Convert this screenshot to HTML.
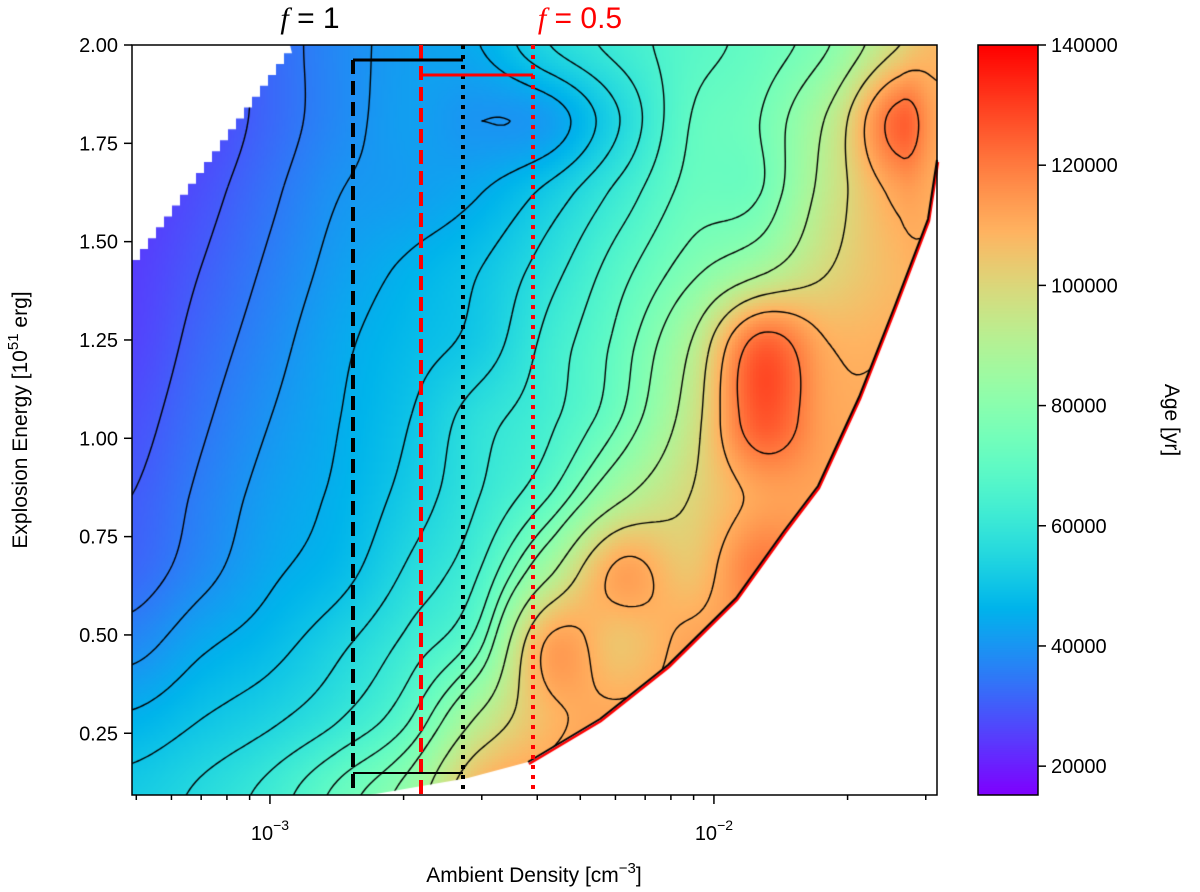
<!DOCTYPE html>
<html><head><meta charset="utf-8">
<style>
body{margin:0;background:#fff;width:1200px;height:892px;overflow:hidden;font-family:"Liberation Sans","DejaVu Sans",sans-serif}
#wrap{position:relative;width:1200px;height:892px}
canvas,svg{position:absolute;left:0;top:0}
</style></head><body>
<div id="wrap">
<canvas id="hm" width="1200" height="892"></canvas>
<svg id="ov" width="1200" height="892"></svg>
</div>
<script>
// ---- data (ages in kyr on a coarse grid) ----
const gridXpx = [132,200,270,340,410,480,550,620,690,760,830,900,937];
const ageRows = [
 [24,26,32,38,42,45,55,62,68,72,80,100,108],
 [24,26,32,38,42,40,42,55,70,75,92,124,112],
 [24,28,34,40,42,45,52,62,72,75,95,112,110],
 [25,30,36,42,46,50,58,68,78,88,100,108,110],
 [26,32,38,44,48,52,62,72,90,124,110,110,112],
 [28,34,40,45,50,58,64,75,95,126,112,112,112],
 [30,36,42,46,52,60,70,88,100,112,112,112,112],
 [32,38,44,48,56,65,88,112,105,120,112,112,112],
 [38,44,48,54,62,74,112,105,112,112,112,112,112],
 [46,50,54,60,70,92,108,112,112,112,112,112,112],
 [52,56,62,72,84,110,114,114,114,114,114,114,114]
];
const yTicks = [0.25,0.50,0.75,1.00,1.25,1.50,1.75,2.00];
const cbTicks = [20000,40000,60000,80000,100000,120000,140000];
const contourLevels = [30,35,40,45,50,55,60,65,70,75,80,90,100,110,120];

const L=132,R=937,T=45,B=795;
const xMinLog=Math.log10(4.89e-4), xMaxLog=Math.log10(0.0318);
const xs=v=>L+(Math.log10(v)-xMinLog)/(xMaxLog-xMinLog)*(R-L);
const yMin=0.093,yMax=2.0;
const ys=v=>B-(v-yMin)/(yMax-yMin)*(B-T);
const cMin=15200,cMax=140000;
const CB={l:978,r:1038};
const cy=v=>B-(v-cMin)/(cMax-cMin)*(B-T);

function rainbow(x){x=Math.max(0,Math.min(1,x));
 const r=Math.min(1,Math.abs(2*x-0.5)),g=Math.sin(Math.PI*x),b=Math.cos(Math.PI*x/2);
 return [r*255|0,g*255|0,b*255|0];}
function cr(p0,p1,p2,p3,t){return 0.5*((2*p1)+(-p0+p2)*t+(2*p0-5*p1+4*p2-p3)*t*t+(-p0+3*p1-3*p2+p3)*t*t*t);}
const nr=ageRows.length, nc=gridXpx.length;
function g(i,j){i=Math.max(0,Math.min(nr-1,i));j=Math.max(0,Math.min(nc-1,j));return ageRows[i][j];}
function field(px,py){
 let j=0;while(j<nc-2&&px>gridXpx[j+1])j++;
 const tx=Math.max(0,Math.min(1,(px-gridXpx[j])/(gridXpx[j+1]-gridXpx[j])));
 const fy=(py-T)/(B-T)*(nr-1);let i=Math.min(nr-2,Math.max(0,Math.floor(fy)));const ty=fy-i;
 const rows=[];for(let k=-1;k<=2;k++)rows.push(cr(g(i+k,j-1),g(i+k,j),g(i+k,j+1),g(i+k,j+2),tx));
 return cr(rows[0],rows[1],rows[2],rows[3],ty);}

const edge=[[937,160],[928,219],[894,308],[859,397],[818,486],[784,531],[736,598],[668,665],[600,719],[528,762],[468,778],[370,795]];
const ctx=document.getElementById('hm').getContext('2d');
function maskPath(c){
 c.beginPath();c.moveTo(132,260);
 for(let x=132;x<290;x+=8){const y=260-(x-132)*215/158;c.lineTo(x,y);c.lineTo(x+8,y);}
 c.lineTo(290,45);c.lineTo(937,45);
 edge.forEach(p=>c.lineTo(p[0],p[1]));c.lineTo(132,795);c.closePath();}
ctx.save();maskPath(ctx);ctx.clip();
const st=3;
for(let y=T;y<B;y+=st)for(let x=L;x<R;x+=st){const c=rainbow((field(x+1.5,y+1.5)*1000-cMin)/(cMax-cMin));ctx.fillStyle=`rgb(${c[0]},${c[1]},${c[2]})`;ctx.fillRect(x,y,st,st);}
const s=4,W=Math.ceil((R-L)/s)+1,H=Math.ceil((B-T)/s)+1,F=[];
for(let a=0;a<H;a++){F[a]=[];for(let b=0;b<W;b++)F[a][b]=field(L+b*s,T+a*s);}
ctx.strokeStyle='#000';ctx.lineWidth=1.4;ctx.beginPath();
contourLevels.forEach(lv=>{
 for(let a=0;a<H-1;a++)for(let b=0;b<W-1;b++){
  const v=[F[a][b],F[a][b+1],F[a+1][b+1],F[a+1][b]];
  const P=[[0,0],[s,0],[s,s],[0,s]];const pts=[];
  for(let e=0;e<4;e++){const v1=v[e],v2=v[(e+1)%4];
   if((v1<lv)!==(v2<lv)){const t=(lv-v1)/(v2-v1);const p1=P[e],p2=P[(e+1)%4];
    pts.push([L+b*s+p1[0]+(p2[0]-p1[0])*t,T+a*s+p1[1]+(p2[1]-p1[1])*t]);}}
  for(let k=0;k+1<pts.length;k+=2){ctx.moveTo(pts[k][0],pts[k][1]);ctx.lineTo(pts[k+1][0],pts[k+1][1]);}
 }});
ctx.stroke();ctx.restore();
function edgeLine(dx,dy,n){ctx.beginPath();ctx.moveTo(edge[0][0]+dx,edge[0][1]+dy);for(let k=1;k<n;k++)ctx.lineTo(edge[k][0]+dx,edge[k][1]+dy);}
edgeLine(1,2,10);ctx.strokeStyle='#f00';ctx.lineWidth=2.5;ctx.stroke();
edgeLine(0,0,10);ctx.strokeStyle='#000';ctx.lineWidth=2;ctx.stroke();
for(let y=T;y<B;y++){const v=cMin+(B-y)/(B-T)*(cMax-cMin);const c=rainbow((v-cMin)/(cMax-cMin));ctx.fillStyle=`rgb(${c[0]},${c[1]},${c[2]})`;ctx.fillRect(CB.l,y,CB.r-CB.l,1);}

const svg=document.getElementById('ov');const NS='http://www.w3.org/2000/svg';
function el(tag,at,txt){const e=document.createElementNS(NS,tag);for(const k in at)e.setAttribute(k,at[k]);if(txt!==undefined)e.textContent=txt;svg.appendChild(e);return e;}
let e;
e=el('rect',{x:L,y:T,width:R-L,height:B-T,fill:'none',stroke:'#000','stroke-width':1.5});

e=el('rect',{x:CB.l,y:T,width:CB.r-CB.l,height:B-T,fill:'none',stroke:'#000','stroke-width':1.5});

const lines=[
 {x:353,y1:60,y2:795,c:'#000',d:'14,7',n:'f1-lower-line'},
 {x:463,y1:45,y2:795,c:'#000',d:'4,6',n:'f1-upper-line'},
 {x:421,y1:45,y2:795,c:'#f00',d:'14,7',n:'f05-lower-line'},
 {x:533,y1:45,y2:795,c:'#f00',d:'4,6',n:'f05-upper-line'}];
lines.forEach(o=>{e=el('line',{x1:o.x,x2:o.x,y1:o.y1,y2:o.y2,stroke:o.c,'stroke-width':4,'stroke-dasharray':o.d});
 });
e=el('line',{x1:353,x2:463,y1:60,y2:60,stroke:'#000','stroke-width':3});
e=el('line',{x1:421,x2:533,y1:75,y2:75,stroke:'#f00','stroke-width':3});
e=el('line',{x1:353,x2:463,y1:773,y2:773,stroke:'#000','stroke-width':2});
e=el('text',{x:310,y:28,'font-size':30,'text-anchor':'middle',fill:'#000'});e.innerHTML='<tspan font-style="italic" font-family="Liberation Serif">f</tspan> = 1';

e=el('text',{x:580,y:28,'font-size':30,'text-anchor':'middle',fill:'#f00'});e.innerHTML='<tspan font-style="italic" font-family="Liberation Serif">f</tspan> = 0.5';

yTicks.forEach(v=>{const y=ys(v);
 e=el('line',{x1:L-8,x2:L,y1:y,y2:y,stroke:'#000','stroke-width':1.5});
 e=el('text',{x:L-14,y:y+7,'font-size':20,'text-anchor':'end'},v.toFixed(2));});
for(let d=-4;d<=-2;d++)for(let m=1;m<10;m++){const v=m*Math.pow(10,d);const x=xs(v);if(x<L-0.5||x>R+0.5)continue;
 e=el('line',{x1:x,x2:x,y1:B,y2:B+(m===1?9:5),stroke:'#000','stroke-width':1.5});
 if(m===1){e=el('text',{x:x,y:B+45,'font-size':20,'text-anchor':'middle'});e.innerHTML='10<tspan dy="-10" font-size="14">−'+(-d)+'</tspan>';
  }}
e=el('text',{x:534,y:882,'font-size':21,'text-anchor':'middle'});e.innerHTML='Ambient Density [cm<tspan dy="-9" font-size="15">−3</tspan><tspan dy="9">]</tspan>';

e=el('text',{x:0,y:0,'font-size':21,'text-anchor':'middle',transform:'translate(27,420) rotate(-90)'});
e.innerHTML='Explosion Energy [10<tspan dy="-9" font-size="15">51</tspan><tspan dy="9"> erg]</tspan>';

cbTicks.forEach(v=>{const y=cy(v);
 e=el('line',{x1:CB.r,x2:CB.r+8,y1:y,y2:y,stroke:'#000','stroke-width':1.5});
 e=el('text',{x:CB.r+13,y:y+7,'font-size':20},String(v));});
e=el('text',{x:0,y:0,'font-size':21,'text-anchor':'middle',transform:'translate(1165,420) rotate(90)'},'Age [yr]');

</script>
</body></html>
